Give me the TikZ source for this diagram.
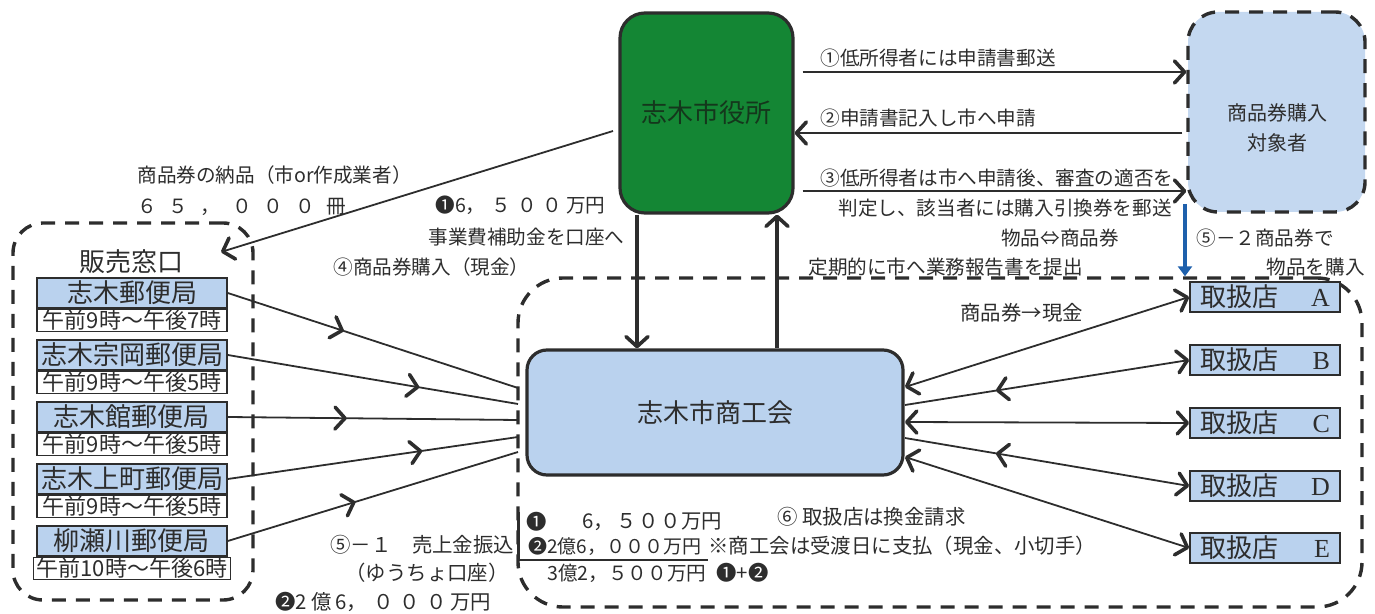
\documentclass[tikz,border=0pt]{standalone}
\usepackage{fontspec}
\setmainfont{Noto Sans CJK JP}
\newfontfamily\latinser{Liberation Serif}
\usetikzlibrary{arrows.meta,decorations.markings,calc}
\definecolor{cgreen}{RGB}{20,134,52}
\definecolor{cblue}{RGB}{186,210,238}
\definecolor{cbluel}{RGB}{196,216,240}
\definecolor{cline}{RGB}{45,45,45}
\definecolor{ctext}{RGB}{45,45,45}
\definecolor{carrow}{RGB}{30,96,172}
\definecolor{citytext}{RGB}{20,55,28}
\tikzset{
  chev/.tip={Straight Barb[length=5pt,width=11pt,line width=1.8pt,round]},
  lbl/.style={inner sep=0pt,text=ctext,font=\fontsize{9.8}{14}\selectfont},
  lblb/.style={inner sep=0pt,text=ctext,font=\fontsize{10.2}{14}\selectfont},
  big/.style={font=\fontsize{13}{15}\selectfont},
  zonebox/.style={draw=cline,line width=1.7pt,dash pattern=on 7pt off 5pt,inner sep=0pt},
  conn/.style={draw=cline,line width=0.9pt},
  hconn/.style={draw=cline,line width=1.3pt},
  vthick/.style={draw=cline,line width=2.3pt},
  midfwd/.style={postaction={decorate},decoration={markings,mark=at position #1 with {\arrow{chev}}}},
  midback/.style={postaction={decorate},decoration={markings,mark=at position #1 with {\arrowreversed{chev}}}},
  po/.style={draw=cline,line width=0.8pt,fill=cblue,minimum width=95pt,minimum height=15pt,inner sep=0pt,text=ctext,font=\fontsize{13}{13}\selectfont},
  tm/.style={draw=cline,line width=0.8pt,fill=white,minimum width=95pt,minimum height=11pt,inner sep=0pt,text=ctext,font=\fontsize{11}{11}\selectfont},
  shop/.style={draw=cline,line width=0.9pt,fill=cblue,minimum height=15pt,inner ysep=0pt,inner xsep=5pt,text width=65pt,align=left,text=ctext,font=\fontsize{13}{13}\selectfont}
}
\begin{document}
\begin{tikzpicture}[x=0.5pt,y=-0.5pt]
\useasboundingbox (0,0) rectangle (1375,614);
% dashed regions
\node[zonebox,minimum width=120pt,minimum height=188.5pt,rounded corners=15pt] (sales) at (133,411.5) {};
\node[zonebox,minimum width=422pt,minimum height=164.5pt,rounded corners=22.5pt] (zone) at (940,442.5) {};
% main boxes
\node[draw=cline,line width=1.6pt,fill=cgreen,rounded corners=12.5pt,minimum width=86.5pt,minimum height=100pt,text=citytext,big] (city) at (706.5,113) {志木市役所};
\node[zonebox,fill=cbluel,rounded corners=15pt,minimum width=88.5pt,minimum height=100pt] (buyer) at (1276.5,112) {};
\node[lbl,align=center,font=\fontsize{10}{15}\selectfont] (buyertxt) at (1277,128) {商品券購入\\対象者};
\node[draw=cline,line width=1.6pt,fill=cblue,rounded corners=10pt,minimum width=188pt,minimum height=62.5pt,text=ctext,big] (shoko) at (715,412.5) {志木市商工会};
% sales window
\node[big,text=ctext,inner sep=0pt] (salestitle) at (131,262) {販売窓口};
\node[po] (p1) at (132,293) {志木郵便局};
\node[tm,anchor=north] (t1) at (p1.south) {午前9時～午後7時};
\node[po] (p2) at (132,355) {志木宗岡郵便局};
\node[tm,anchor=north] (t2) at (p2.south) {午前9時～午後5時};
\node[po] (p3) at (132,417) {志木館郵便局};
\node[tm,anchor=north] (t3) at (p3.south) {午前9時～午後5時};
\node[po] (p4) at (132,479) {志木上町郵便局};
\node[tm,anchor=north] (t4) at (p4.south) {午前9時～午後5時};
\node[po] (p5) at (132,541) {柳瀬川郵便局};
\node[tm,anchor=north,minimum width=98.5pt] (t5) at (p5.south) {午前10時～午後6時};
% shops
\node[shop] (k1) at (1265,297) {取扱店\hfill{\latinser A}};
\node[shop] (k2) at (1265,360) {取扱店\hfill{\latinser B}};
\node[shop] (k3) at (1265,423) {取扱店\hfill{\latinser C}};
\node[shop] (k4) at (1265,486) {取扱店\hfill{\latinser D}};
\node[shop] (k5) at (1265,548) {取扱店\hfill{\latinser E}};
% coordinates
\coordinate (r1) at (0,72);
\coordinate (r2) at (0,133);
\coordinate (r3) at (0,191);
\coordinate (dx) at (637,0);
\coordinate (ux) at (777,0);
\coordinate (dS) at (613,131);
\coordinate (dE) at (221,252);
\coordinate (bA) at (1185,204);
\coordinate (e1) at (518,388);
\coordinate (e2) at (518,404);
\coordinate (e3) at (518,420);
\coordinate (e4) at (518,437);
\coordinate (e5) at (518,452);
\coordinate (s1) at (905,387);
\coordinate (s2) at (905,405);
\coordinate (s3) at (905,422);
\coordinate (s4) at (905,438);
\coordinate (s5) at (905,457);
\coordinate (bk1) at (518,512);
\coordinate (bk2) at (518,560);
\coordinate (bk3) at (708,560);
% connectors city <-> buyer
\draw[hconn,-chev,shorten <=4pt] (city.east |- r1) -- (buyer.west |- r1);
\draw[hconn,-chev,shorten <=2pt] (buyer.west |- r2) -- (city.east |- r2);
\draw[hconn,-chev,shorten <=4pt] (city.east |- r3) -- (buyer.west |- r3);
% city <-> shoko
\draw[vthick,-chev] (dx |- city.south) -- (dx |- shoko.north);
\draw[vthick,-chev] (ux |- shoko.north) -- (ux |- city.south);
% delivery to sales
\draw[conn,-chev] (dS) -- (dE);
% blue arrow
\draw[draw=carrow,line width=2.2pt,-{Triangle[length=5pt,width=7pt]}] (bA) -- (bA |- zone.north);
% post offices to shoko region
\draw[conn,midfwd=0.4] (p1.east) -- (e1);
\draw[conn,midfwd=0.66] (p2.east) -- (e2);
\draw[conn,midfwd=0.41] (p3.east) -- (e3);
\draw[conn,midfwd=0.67] (p4.east) -- (e4);
\draw[conn,midfwd=0.44] (p5.east) -- (e5);
% shoko to shops
\draw[conn,chev-chev] (s1) -- (k1.west);
\draw[conn,-chev,midback=0.32] (s2) -- (k2.west);
\draw[conn,chev-chev] (s3) -- (k3.west);
\draw[conn,-chev,midback=0.32] (s4) -- (k4.west);
\draw[conn,chev-chev] (s5) -- (k5.west);
% bracket
\draw[draw=cline,line width=1.5pt] (bk1) -- (bk2);
\draw[draw=cline,line width=0.9pt] (bk2) -- (bk3);
% labels
\node[lbl,anchor=west] (L1) at (137,175) {商品券の納品（市or作成業者）};
\node[lbl,anchor=west] (L2) at (137,207) {６\kern6pt５\kern6pt，\kern6pt０\kern6pt０\kern6pt０\kern6pt冊};
\node[lbl,anchor=west] (L3) at (435,205) {❶6，\kern3pt５\kern3pt０\kern3pt０\kern2pt万円};
\node[lbl,anchor=west] (L4) at (428,237) {事業費補助金を口座へ};
\node[lbl,anchor=west] (L5) at (333,267) {④商品券購入（現金）};
\node[lbl,anchor=west] (L6) at (820,58) {①低所得者には申請書郵送};
\node[lbl,anchor=west] (L7) at (820,118) {②申請書記入し市へ申請};
\node[lbl,anchor=west] (L8) at (820,178) {③低所得者は市へ申請後、審査の適否を};
\node[lbl,anchor=east] (L9) at (1172,208) {判定し、該当者には購入引換券を郵送};
\node[lbl] (L10) at (1060,238) {物品⇔商品券};
\node[lbl,anchor=west] (L11) at (808,267) {定期的に市へ業務報告書を提出};
\node[lbl,anchor=west] (L12) at (1196,238) {⑤－２商品券で};
\node[lbl,anchor=east] (L13) at (1365,267) {物品を購入};
\node[lblb,anchor=west] (L14) at (960,313) {商品券→現金};
\node[lblb,anchor=west] (L15) at (777,517) {⑥ 取扱店は換金請求};
\node[lblb] (L16) at (537,522) {❶};
\node[lblb,anchor=west] (L17) at (582,522) {6，\kern1pt５\kern1pt０\kern1pt０万円};
\node[lbl,anchor=west,font=\fontsize{9.5}{14}\selectfont] (L18) at (528,546) {❷2億6，０００万円};
\node[lblb,anchor=west] (L19) at (708,546) {※商工会は受渡日に支払（現金、小切手）};
\node[lbl,anchor=west] (L20) at (547,573) {3億2，５００万円};
\node[lblb,anchor=west] (L21) at (716,573) {❶+❷};
\node[lblb,anchor=west] (L22) at (330,545) {⑤－１　売上金振込};
\node[lblb,anchor=west] (L23) at (345,573) {（ゆうちょ口座）};
\node[lblb,anchor=west] (L24) at (275,602) {❷2\kern2pt億\kern2pt6，\kern3pt０\kern3pt０\kern3pt０\kern2pt万円};
\end{tikzpicture}
\end{document}
